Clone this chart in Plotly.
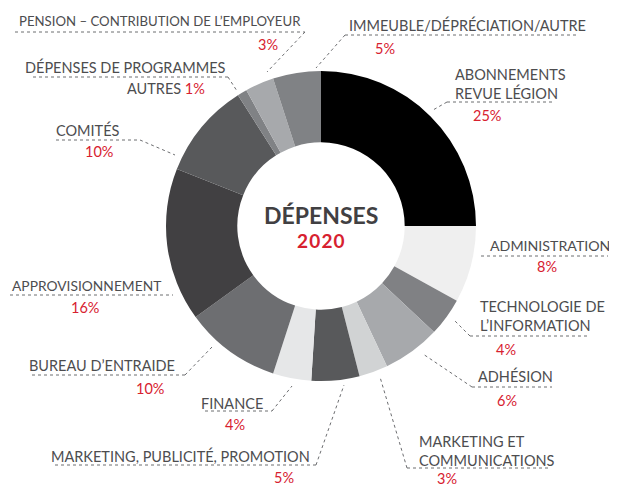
import plotly.graph_objects as go

W, H = 617, 487
OFF = 8  # the page body margin pushes the figure 8px right and down

# data
categories = [
    "ABONNEMENTS REVUE LÉGION", "ADMINISTRATION", "TECHNOLOGIE DE L’INFORMATION",
    "ADHÉSION", "MARKETING ET COMMUNICATIONS", "MARKETING, PUBLICITÉ, PROMOTION",
    "FINANCE", "BUREAU D’ENTRAIDE", "APPROVISIONNEMENT", "COMITÉS",
    "DÉPENSES DE PROGRAMMES AUTRES", "PENSION – CONTRIBUTION DE L’EMPLOYEUR",
    "IMMEUBLE/DÉPRÉCIATION/AUTRE",
]
values = [25, 8, 4, 6, 3, 5, 4, 10, 16, 10, 1, 3, 5]
# how each label is broken into lines on the chart
label_lines = [
    ["ABONNEMENTS", "REVUE LÉGION"], ["ADMINISTRATION"], ["TECHNOLOGIE DE", "L’INFORMATION"],
    ["ADHÉSION"], ["MARKETING ET", "COMMUNICATIONS"], ["MARKETING, PUBLICITÉ, PROMOTION"],
    ["FINANCE"], ["BUREAU D’ENTRAIDE"], ["APPROVISIONNEMENT"], ["COMITÉS"],
    ["DÉPENSES DE PROGRAMMES", "AUTRES"], ["PENSION – CONTRIBUTION DE L’EMPLOYEUR"],
    ["IMMEUBLE/DÉPRÉCIATION/AUTRE"],
]

slice_colors = ["#000000", "#efefef", "#808184", "#a7a9ac", "#d1d3d4", "#58595b",
                "#e6e7e8", "#6d6e71", "#414042", "#58595b", "#808285", "#a7a9ac", "#808285"]

TEXT = "#4d4d4f"
RED = "#d7212f"
FONT = "Lato"
FS = 14.5

# label placement in pixels: (text x, anchor, text center y, pct x, pct y, underline x0, x1, y, leader end, font size)
placement = [
    (453, "left", 83.5, 487, 116, 447, 552, 102, (433, 110), FS),
    (488, "left", 245, 547, 266, 481, 608, 256, None, 14.2),
    (478, "left", 316, 506, 349, 470, 588, 336, (455, 321), FS),
    (476, "left", 376, 507, 400, 472, 552, 387, (423, 354), FS),
    (417, "left", 451, 447, 478, 407, 548, 468, (380, 377), FS),
    (312, "right", 456, 284, 477, 55, 316, 465, (344, 385), FS),
    (265, "right", 403, 235, 424, 205, 272, 411, (292, 386), FS),
    (177, "right", 365, 150, 388, 32, 185, 375, (212, 347), FS),
    (163, "right", 285, 85, 307, 10, 173, 295, None, 13.8),
    (122, "right", 130, 99, 152, 56, 140, 140, (175, 155), FS),
    (228, "right", 67, None, None, 33, 228, 77, (237, 91), FS),
    (303, "right", 21, 268, 45, 15, 305, 32, (267, 72), 13.2),
    (347, "left", 25, 385, 48, 345, 576, 35, (316, 68), FS),
]


def px(x):
    return (x - OFF) / W


def py(y):
    return 1 - (y - OFF) / H


# donut: center (321, 226), outer radius 155
cx, cy, r = 321, 226, 155
fig = go.Figure(go.Pie(
    labels=categories, values=values, sort=False, direction="clockwise", rotation=0,
    hole=0.54, marker=dict(colors=slice_colors, line=dict(width=0)),
    textinfo="none", hoverinfo="label+percent", showlegend=False,
    domain=dict(x=[px(cx - r), px(cx + r)], y=[py(cy + r), py(cy - r)]),
))

annotations = []
shapes = []
dot = dict(color="#6d6e71", width=1, dash="dot")

for lines, v, (tx, anchor, ty, pxx, pyy, ux0, ux1, uy, lead, fs) in zip(label_lines, values, placement):
    if pxx is None:
        # first line on its own, second line carries the percentage inline
        annotations.append(dict(x=px(tx), y=py(ty), text=lines[0], xanchor="right", yanchor="middle",
                                showarrow=False, font=dict(family=FONT, size=fs, color=TEXT)))
        annotations.append(dict(x=px(125), y=py(89), xanchor="left", yanchor="middle", showarrow=False,
                                text=f"{lines[1]} <span style='color:{RED}'>{v}%</span>",
                                font=dict(family=FONT, size=fs, color=TEXT)))
    else:
        annotations.append(dict(x=px(tx), y=py(ty), text="<br>".join(lines), xanchor=anchor, align=anchor,
                                yanchor="middle", showarrow=False,
                                font=dict(family=FONT, size=fs, color=TEXT)))
        annotations.append(dict(x=px(pxx), y=py(pyy), text=f"{v}%", xanchor="center", yanchor="middle",
                                showarrow=False, font=dict(family=FONT, size=FS, color=RED)))
    shapes.append(dict(type="line", xref="paper", yref="paper", x0=px(ux0), x1=px(ux1),
                       y0=py(uy), y1=py(uy), line=dot))
    if lead is not None:
        sx = ux0 if anchor == "left" else ux1
        shapes.append(dict(type="line", xref="paper", yref="paper", x0=px(sx), y0=py(uy),
                           x1=px(lead[0]), y1=py(lead[1]), line=dot))

# center title
annotations.append(dict(x=px(cx), y=py(215), text="<b>DÉPENSES</b>", showarrow=False, xanchor="center",
                        yanchor="middle", font=dict(family=FONT, size=23, color="#414042")))
annotations.append(dict(x=px(cx), y=py(241), text="<b>2\u200a0\u200a2\u200a0</b>", showarrow=False,
                        xanchor="center", yanchor="middle", font=dict(family=FONT, size=19, color=RED)))

fig.update_layout(
    width=W, height=H, margin=dict(l=0, r=0, t=0, b=0),
    paper_bgcolor="white", plot_bgcolor="white",
    annotations=annotations, shapes=shapes,
)

fig.write_html("out.html")
